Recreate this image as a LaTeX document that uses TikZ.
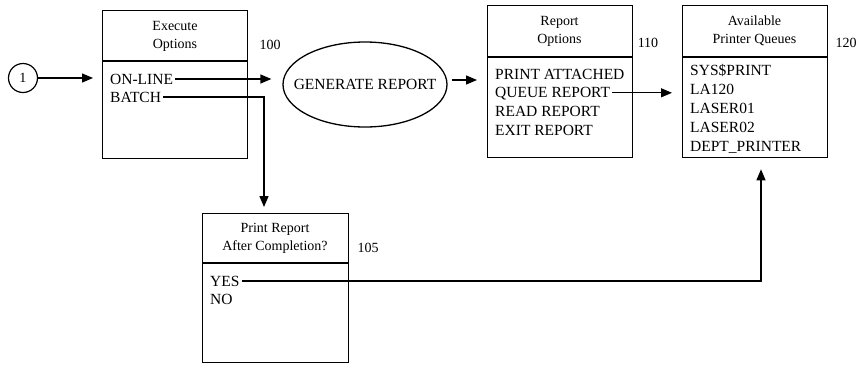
\documentclass[tikz,border=0pt]{standalone}
\usepackage{fontspec}
\setmainfont{Liberation Serif}
\usetikzlibrary{arrows.meta,shapes.geometric,calc}
\begin{document}
\begin{tikzpicture}[x=1pt,y=-1pt,
  boxst/.style={draw,line width=1.3pt,rectangle,inner sep=0pt,anchor=north west},
  hdr/.style={align=center,font=\fontsize{14}{18}\selectfont,inner sep=0pt},
  item/.style={anchor=west,inner sep=0pt,text height=10.3pt,text depth=0pt,font=\fontsize{15.5}{18}\selectfont},
  numlab/.style={font=\fontsize{14}{16}\selectfont,inner sep=0pt},
  divline/.style={line width=1.3pt},
  arr/.style={line width=1.3pt,-{Triangle[length=11pt,width=9pt]}},
  plain/.style={line width=1.3pt}
]
\useasboundingbox (0,0) rectangle (857,365);

% circle 1
\node[draw,circle,line width=1.2pt,minimum size=29pt,inner sep=0pt,font=\fontsize{14}{16}\selectfont] (c1) at (23,78) {1};

% box 100
\node[boxst,minimum width=145pt,minimum height=148pt] (b100) at (102,10) {};
\draw[divline] (b100.west |- 0,61) -- (b100.east |- 0,61);
\node[hdr] (h100) at (175,36) {Execute\\Options};
\node[numlab] (n100) at (270,45) {100};
\node[item] (online) at (110,79) {ON-LINE};
\node[item] (batch) at (110,97) {BATCH};

% ellipse
\node[draw,ellipse,line width=1.3pt,minimum width=164pt,minimum height=85pt,inner sep=0pt,font=\fontsize{15.5}{18}\selectfont] (gen) at (365,84.5) {\makebox[0pt]{GENERATE REPORT}};

% box 110
\node[boxst,minimum width=145pt,minimum height=152pt] (b110) at (487,5) {};
\draw[divline] (b110.west |- 0,57) -- (b110.east |- 0,57);
\node[hdr] (h110) at (559.5,31) {Report\\Options};
\node[numlab] (n110) at (648,43) {110};
\node[item] (pattach) at (495,74) {PRINT ATTACHED};
\node[item] (queue) at (495,92.8) {QUEUE REPORT};
\node[item] (readr) at (495,111.6) {READ REPORT};
\node[item] (exitr) at (495,130.4) {EXIT REPORT};

% box 120
\node[boxst,minimum width=145pt,minimum height=152pt] (b120) at (682,5) {};
\draw[divline] (b120.west |- 0,57) -- (b120.east |- 0,57);
\node[hdr] (h120) at (754.5,31) {Available\\Printer Queues};
\node[numlab] (n120) at (846,43) {120};
\node[item] (sys) at (690,70) {SYS\$PRINT};
\node[item] (la) at (690,89) {LA120};
\node[item] (l1) at (690,108) {LASER01};
\node[item] (l2) at (690,127) {LASER02};
\node[item] (dept) at (690,146) {DEPT\_PRINTER};

% box 105
\node[boxst,minimum width=146pt,minimum height=149pt] (b105) at (202,213) {};
\draw[divline] (b105.west |- 0,263) -- (b105.east |- 0,263);
\node[hdr] (h105) at (275,238) {Print Report\\After Completion?};
\node[numlab] (n105) at (368,248) {105};
\node[item] (yes) at (210,281) {YES};
\node[item] (no) at (210,299) {NO};

% connectors
\draw[arr,shorten >=9pt] (c1.east) -- (c1.east -| b100.west);
\draw[arr,shorten <=2pt,shorten >=11pt] (online.east) -- (online.east -| gen.west);
\coordinate (bturn) at (264,97);
\draw[arr,shorten <=2pt,shorten >=6pt] (batch.east) -- (bturn) -- (bturn |- b105.north);
\coordinate (gout) at ($(gen.east)+(4,-4.5)$);
\draw[arr,shorten >=10pt] (gout) -- (gout -| b110.west);
\draw[arr,shorten <=2pt,shorten >=10pt] (queue.east) -- (queue.east -| b120.west);
\coordinate (yturn) at (761,281);
\draw[arr,shorten <=2pt,shorten >=11pt] (yes.east) -- (yturn) -- (yturn |- b120.south);
\end{tikzpicture}
\end{document}
